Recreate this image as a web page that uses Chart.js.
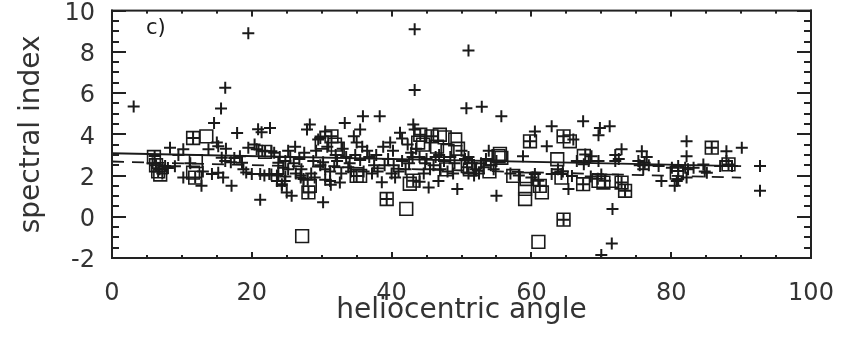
<!DOCTYPE html>
<html>
<head>
<meta charset="utf-8">
<script src="https://cdn.jsdelivr.net/npm/chart.js@4"></script>
<style>
  html, body { margin: 0; padding: 0; background: #fff; }
  #spectralChart { display: block; }
</style>
</head>
<body>
<canvas id="spectralChart" width="848" height="345"></canvas>
<script>
// values
const plusPoints = [
    [3.1, 5.35], [19.5, 8.9], [16.2, 6.26], [15.6, 5.25], [14.6, 4.55], [17.9, 4.06], [20.9, 4.25], [21.4, 4.1], [22.6, 4.3],
    [43.3, 9.1], [43.3, 6.15], [51.0, 8.07], [50.7, 5.26], [52.9, 5.34], [55.7, 4.87],
    [33.3, 4.55], [35.9, 4.87], [38.3, 4.87], [35.5, 4.23], [28.3, 4.47], [27.9, 4.23], [30.5, 4.14], [29.5, 3.75],
    [41.2, 4.07], [43.1, 4.47], [43.3, 4.23], [62.9, 4.39], [60.5, 4.14], [67.4, 4.63], [69.8, 4.3], [71.2, 4.39], [69.6, 3.95],
    [21.2, 0.83], [30.2, 0.7], [25.7, 1.02], [55.0, 1.02], [71.6, 0.38], [71.5, -1.3], [70.0, -1.85], [92.7, 1.26], [92.7, 2.46], [90.1, 3.35],
    [5.8, 2.6], [6.1, 2.95], [6.8, 2.3], [7.2, 2.1], [7.6, 2.46], [8.0, 2.37], [9.0, 2.45], [8.3, 3.35], [10.2, 3.27], [10.2, 1.9],
    [12.8, 1.5], [13.8, 3.27], [15.0, 3.6], [15.2, 3.42], [16.3, 3.3], [14.3, 2.07], [15.2, 2.14], [15.9, 1.9], [17.1, 1.5],
    [15.7, 2.86], [16.2, 2.7], [17.0, 2.65], [17.5, 2.85], [18.3, 2.94], [18.6, 2.62], [18.8, 2.3], [19.2, 2.15], [20.0, 2.07],
    [19.5, 3.35], [20.4, 3.5], [20.7, 3.27], [21.5, 3.2], [21.9, 3.18], [22.8, 3.18], [21.2, 2.07], [21.8, 2.0], [22.5, 2.07],
    [22.8, 2.05], [23.6, 2.0], [23.8, 2.07], [24.8, 1.95], [23.6, 1.74], [24.3, 1.5], [25.0, 1.18], [23.8, 2.62], [24.5, 2.38],
    [23.2, 3.1], [24.0, 2.9], [24.8, 2.7], [25.2, 3.2], [13.0, 2.2], [11.2, 2.6], [9.5, 3.0],
    [24.7, 1.74], [24.3, 1.58], [27.4, 1.83], [27.1, 2.3], [31.2, 1.74], [32.6, 1.66], [31.3, 1.55], [30.5, 1.8], [38.6, 1.67],
    [40.5, 1.9], [45.3, 1.42], [46.7, 1.74], [49.4, 1.35], [44.0, 1.7],
    [25.5, 2.9], [26.0, 2.6], [25.2, 2.3], [26.3, 2.1], [27.0, 2.0], [26.8, 2.8], [27.5, 3.1], [27.0, 1.9], [28.0, 1.8], [29.0, 1.9], [28.5, 2.1],
    [30.8, 3.4], [32.0, 3.0], [29.8, 3.82], [29.8, 2.5], [30.5, 2.3], [31.2, 2.2], [31.8, 2.45], [30.2, 2.65],
    [33.0, 3.3], [33.5, 2.9], [34.0, 2.6], [34.8, 3.0], [35.5, 2.75], [33.8, 2.4], [35.0, 3.6], [35.8, 3.4], [34.6, 3.9], [36.0, 2.2],
    [36.8, 2.9], [37.5, 2.5], [37.2, 2.1], [38.8, 3.4], [39.8, 3.6], [40.2, 3.2], [39.5, 2.8], [40.3, 2.5], [41.0, 2.2], [41.5, 2.7], [40.0, 2.1],
    [41.5, 3.8], [42.3, 3.5], [42.8, 3.1], [43.5, 3.3], [43.0, 2.9], [44.0, 2.9], [44.8, 2.6], [45.5, 2.3], [45.0, 2.8], [46.0, 2.5],
    [46.8, 3.0], [47.5, 2.7], [48.4, 2.9], [49.0, 2.6], [47.0, 2.3], [48.0, 2.2], [50.0, 3.2], [50.5, 2.8], [50.8, 2.4], [51.0, 2.1],
    [42.0, 2.3], [38.0, 2.2], [36.5, 3.2], [32.8, 2.1], [28.8, 2.7], [29.2, 3.2],
    [26.2, 3.4], [34.2, 2.2], [39.0, 2.5], [42.5, 2.6], [44.6, 2.1], [46.3, 2.9], [48.8, 2.1], [37.8, 3.0], [32.2, 2.7],
    [51.0, 2.9], [51.5, 2.6], [52.0, 2.3], [52.5, 2.1], [51.8, 2.0], [52.8, 2.6], [53.2, 2.4], [53.5, 2.8], [53.9, 3.2], [54.2, 2.5],
    [55.0, 2.7], [54.6, 2.3], [57.0, 2.1], [58.2, 2.0], [58.8, 2.94], [60.0, 1.9], [61.0, 1.75], [60.5, 2.07], [62.2, 3.42], [62.9, 2.07],
    [63.8, 2.3], [64.5, 2.2], [64.3, 2.07], [65.8, 1.98], [65.3, 1.35], [66.0, 3.75], [66.5, 2.7], [67.5, 2.55], [67.7, 3.02],
    [68.6, 2.94], [69.6, 2.7], [68.2, 2.7], [68.5, 1.95], [69.5, 1.85], [70.0, 2.05], [70.5, 1.75],
    [72.0, 3.0], [72.9, 3.27], [72.0, 2.7], [72.5, 2.8], [75.3, 2.7], [76.2, 2.62], [75.5, 2.5], [76.8, 2.5], [76.0, 2.3], [75.8, 3.18], [76.5, 2.9],
    [78.2, 2.46], [78.6, 1.74], [80.8, 1.74], [80.5, 1.5], [80.1, 2.38], [81.0, 2.22], [81.0, 2.46], [82.0, 2.38], [82.4, 2.3],
    [82.2, 3.66], [82.2, 2.94], [83.2, 2.38], [82.2, 1.9], [84.6, 2.54], [84.8, 2.2], [85.1, 2.14], [87.0, 2.46], [88.7, 2.46],
    [87.9, 3.18], [87.9, 2.7], [81.0, 1.82],
    // pluses sitting inside boxes
    [6.3, 2.5], [6.6, 2.2], [11.6, 3.82], [11.9, 1.9], [31.4, 3.9], [28.1, 1.18], [39.3, 0.86], [64.6, -0.14], [85.8, 3.35],
    [35.0, 1.98], [59.8, 3.66], [64.6, 3.9], [73.4, 1.26], [72.9, 1.66], [67.4, 1.58], [61.2, 1.5], [44.1, 3.98], [45.7, 3.9],
    [43.1, 1.75], [88.2, 2.54]
];

const boxPoints = [
    [6.0, 2.9], [6.3, 2.5], [6.6, 2.2], [6.9, 2.05], [11.6, 3.82], [13.5, 3.9], [12.0, 2.7], [11.6, 2.14], [11.9, 1.9], [21.9, 3.15],
    [31.4, 3.9], [31.9, 3.5], [30.0, 3.6], [32.3, 3.3], [28.1, 1.18], [28.3, 1.5], [39.3, 0.86], [42.1, 0.38], [27.2, -0.94],
    [35.0, 1.98], [35.5, 1.98], [42.6, 1.6], [43.1, 1.75], [44.1, 3.98], [45.7, 3.9], [46.9, 3.98], [47.6, 3.85], [49.1, 3.75],
    [44.5, 3.5], [43.8, 3.6], [46.5, 3.4], [48.0, 3.2], [49.5, 3.3], [47.8, 2.3], [50.9, 2.46], [51.2, 2.3],
    [55.3, 2.94], [55.7, 2.86], [55.5, 3.05], [54.0, 2.2], [59.8, 3.66], [64.6, 3.9], [65.5, 3.66], [63.7, 2.79], [57.4, 1.98],
    [59.3, 1.83], [59.1, 1.35], [59.1, 0.86], [61.2, 1.5], [61.5, 1.18], [61.0, -1.22], [64.6, -0.14], [64.3, 1.9], [67.4, 1.58],
    [69.6, 1.74], [70.3, 1.66], [71.5, 1.74], [72.9, 1.66], [73.4, 1.26], [67.5, 2.95], [80.8, 2.14], [85.8, 3.35], [88.2, 2.54]
];

const fitAllX = [0, 90];
const fitAllY = [3.08, 2.46];
const fitBoxX = [0, 90];
const fitBoxY = [2.68, 1.9];

const xTicks = [0, 20, 40, 60, 80, 100];
const yTicks = [-2, 0, 2, 4, 6, 8, 10];
const xMinorStep = 5;
const yMinorStep = 0.5;

const ink = '#1a1a1a';
const labelFont = { family: 'DejaVu Sans', size: 24 };
const titleFont = { family: 'DejaVu Sans', size: 28 };

function toXY(list) {
    return list.map(p => ({ x: p[0], y: p[1] }));
}
function lineXY(xs, ys) {
    return xs.map((x, i) => ({ x: x, y: ys[i] }));
}

// frame, inward ticks on all four sides and the panel tag (filled, not stroked)
const frameTicks = {
    id: 'frameTicks',
    afterDraw(chart) {
        const c = chart.ctx;
        const a = chart.chartArea;
        const x = chart.scales.x, y = chart.scales.y;
        const w = 2;
        c.save();
        c.fillStyle = '#222';
        c.fillRect(a.left - 1, a.top - 1, a.right - a.left + w, w);
        c.fillRect(a.left - 1, a.bottom - 1, a.right - a.left + w, w);
        c.fillRect(a.left - 1, a.top - 1, w, a.bottom - a.top + w);
        c.fillRect(a.right - 1, a.top - 1, w, a.bottom - a.top + w);
        for (let v = 0; v <= 100; v += xMinorStep) {
            const px = Math.round(x.getPixelForValue(v)) - 1;
            const len = xTicks.includes(v) ? 6 : 3;
            c.fillRect(px, a.bottom - len, w, len);
            c.fillRect(px, a.top, w, len);
        }
        for (let v = -2; v <= 10.001; v += yMinorStep) {
            const py = Math.round(y.getPixelForValue(v)) - 1;
            const len = yTicks.includes(v) ? 14 : 7;
            c.fillRect(a.left, py, len, w);
            c.fillRect(a.right - len, py, len, w);
        }
        c.fillStyle = ink;
        c.font = '21px "DejaVu Sans"';
        c.textAlign = 'left';
        c.textBaseline = 'middle';
        c.fillText('c)', a.left + 34, a.top + 18);
        c.restore();
    }
};

const canvas = document.getElementById('spectralChart');
new Chart(canvas, {
    type: 'scatter',
    data: {
        datasets: [
            {
                data: toXY(plusPoints),
                pointStyle: 'cross',
                pointRadius: 6,
                borderWidth: 2,
                borderColor: ink
            },
            {
                data: toXY(boxPoints),
                pointStyle: 'rect',
                pointRadius: 9,
                borderWidth: 1.6,
                borderColor: ink,
                backgroundColor: 'rgba(0,0,0,0)'
            },
            {
                type: 'line',
                data: lineXY(fitAllX, fitAllY),
                borderColor: ink,
                borderWidth: 1.8,
                pointRadius: 0
            },
            {
                type: 'line',
                data: lineXY(fitBoxX, fitBoxY),
                borderColor: ink,
                borderWidth: 1.8,
                borderDash: [12, 8],
                pointRadius: 0
            }
        ]
    },
    options: {
        responsive: false,
        animation: false,
        layout: { padding: { left: 0, top: 8, right: 37, bottom: 0 } },
        plugins: { legend: { display: false }, tooltip: { enabled: false } },
        scales: {
            x: {
                type: 'linear',
                min: 0,
                max: 100,
                afterBuildTicks: s => { s.ticks = xTicks.map(v => ({ value: v })); },
                afterFit: s => { s.height = 87; s.paddingLeft = 0; s.paddingRight = 0; },
                grid: { display: false },
                border: { display: false },
                ticks: { color: '#333', font: labelFont, padding: 13, maxRotation: 0 },
                title: {
                    display: true,
                    text: 'heliocentric angle',
                    color: '#333',
                    font: titleFont,
                    padding: { top: 0, bottom: 17 }
                }
            },
            y: {
                type: 'linear',
                min: -2,
                max: 10,
                afterBuildTicks: s => { s.ticks = yTicks.map(v => ({ value: v })); },
                afterFit: s => { s.width = 112; s.paddingTop = 0; s.paddingBottom = 0; },
                grid: { display: false },
                border: { display: false },
                ticks: { color: '#333', font: labelFont, padding: 9, labelOffset: 3 },
                title: {
                    display: true,
                    text: 'spectral index',
                    color: '#333',
                    font: titleFont,
                    padding: { top: 15, bottom: 0 }
                }
            }
        }
    },
    plugins: [frameTicks]
});
</script>
</body>
</html>
